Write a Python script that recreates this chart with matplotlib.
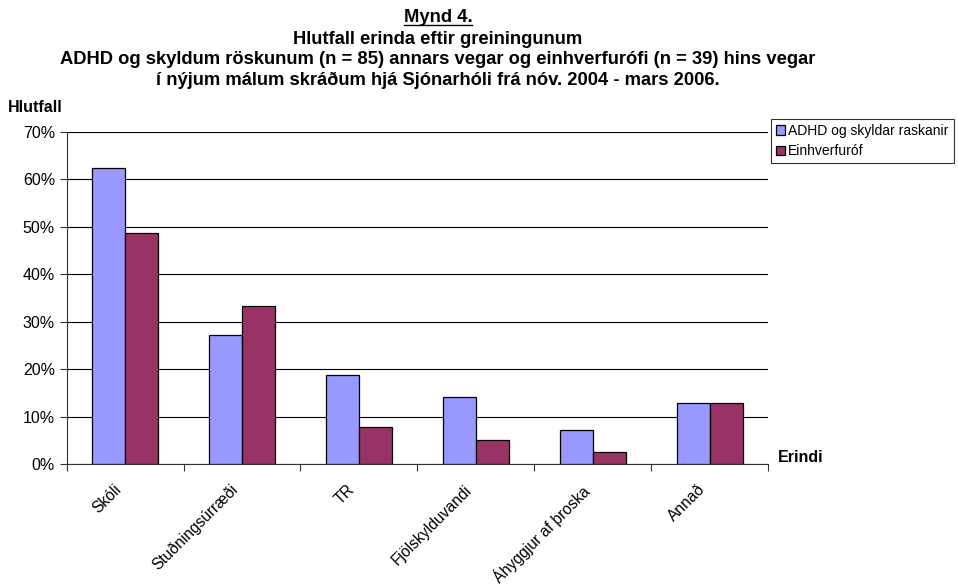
import matplotlib
matplotlib.use("Agg")
import matplotlib.pyplot as plt
import matplotlib.transforms as mtransforms
import numpy as np

plt.rcParams['font.family'] = ['Liberation Sans', 'DejaVu Sans']

categories = ["Skóli", "Stuðningsúrræði", "TR", "Fjölskylduvandi",
              "Áhyggjur af þroska", "Annað"]
adhd = [62.4, 27.1, 18.8, 14.1, 7.1, 12.9]
einhverf = [48.7, 33.3, 7.7, 5.1, 2.6, 12.8]
series_names = ["ADHD og skyldar raskanir", "Einhverfuróf"]
title_lines = ["Hlutfall erinda eftir greiningunum",
               "ADHD og skyldum röskunum (n = 85) annars vegar og einhverfurófi (n = 39) hins vegar",
               "í nýjum málum skráðum hjá Sjónarhóli frá nóv. 2004 - mars 2006."]

W, H = 958, 587
fig = plt.figure(figsize=(W / 100, H / 100), dpi=100)
ax = fig.add_axes([66.7 / W, 1 - 464 / H, (768 - 66.7) / W, (464 - 132) / H])

x = np.arange(len(categories))
bw = 0.282
ax.bar(x - bw / 2, adhd, bw, color="#9999FF", edgecolor="black", linewidth=0.9,
       label=series_names[0], zorder=3)
ax.bar(x + bw / 2, einhverf, bw, color="#993366", edgecolor="black", linewidth=0.9,
       label=series_names[1], zorder=3)

ax.set_xlim(-0.5, len(categories) - 0.5)
ax.set_ylim(0, 70)
ax.set_yticks(np.arange(0, 71, 10))
ax.set_yticklabels([f"{v}%" for v in range(0, 71, 10)], fontsize=11.5)
ax.yaxis.grid(True, color="black", linewidth=0.8, zorder=0)
ax.set_axisbelow(True)

# category ticks sit at boundaries, labels placed at centres
ax.set_xticks(np.arange(-0.5, len(categories) + 0.5, 1))
ax.set_xticklabels([])
ax.tick_params(axis="x", length=5, direction="out", color="#333333")
ax.tick_params(axis="y", length=5, direction="out", color="#333333")

lab_tr = mtransforms.blended_transform_factory(ax.transData, ax.transAxes) + \
    mtransforms.ScaledTranslation(-12 / 100, -18 / 100, fig.dpi_scale_trans)
for xi, cat in zip(x, categories):
    ax.text(xi, 0, cat, transform=lab_tr, rotation=45, ha="right", va="top",
            rotation_mode="anchor", fontsize=11.2)

for s in ["top", "right"]:
    ax.spines[s].set_visible(False)
ax.spines["left"].set_color("#333333")
ax.spines["bottom"].set_color("#333333")

leg = ax.legend(loc="upper left", bbox_to_anchor=(771 / W, 1 - 119 / H),
                bbox_transform=fig.transFigure, fontsize=10, frameon=True,
                fancybox=False, edgecolor="black", handlelength=0.65,
                handleheight=0.65, handletextpad=0.25, borderpad=0.35,
                labelspacing=0.45, borderaxespad=0)
leg.get_frame().set_linewidth(0.8)

tx = 438 / W
t0 = fig.text(tx, 1 - 18 / H, "Mynd 4.", ha="center", va="center",
              fontsize=13.2, fontweight="bold")
for i, line in enumerate(title_lines):
    fig.text(tx, 1 - (39 + 20.8 * i) / H, line, ha="center", va="center",
             fontsize=13.2, fontweight="bold")

# underline "Mynd 4."
fig.canvas.draw()
bb = t0.get_window_extent().transformed(fig.transFigure.inverted())
fig.add_artist(plt.Line2D([bb.x0, bb.x1], [bb.y0 + 0.002, bb.y0 + 0.002],
                          transform=fig.transFigure, color="black", linewidth=1))

fig.text(8 / W, 1 - 107 / H, "Hlutfall", ha="left", va="center",
         fontsize=11.5, fontweight="bold")
fig.text(778 / W, 1 - 458 / H, "Erindi", ha="left", va="center",
         fontsize=11.5, fontweight="bold")

fig.savefig("out.png", dpi=100)
